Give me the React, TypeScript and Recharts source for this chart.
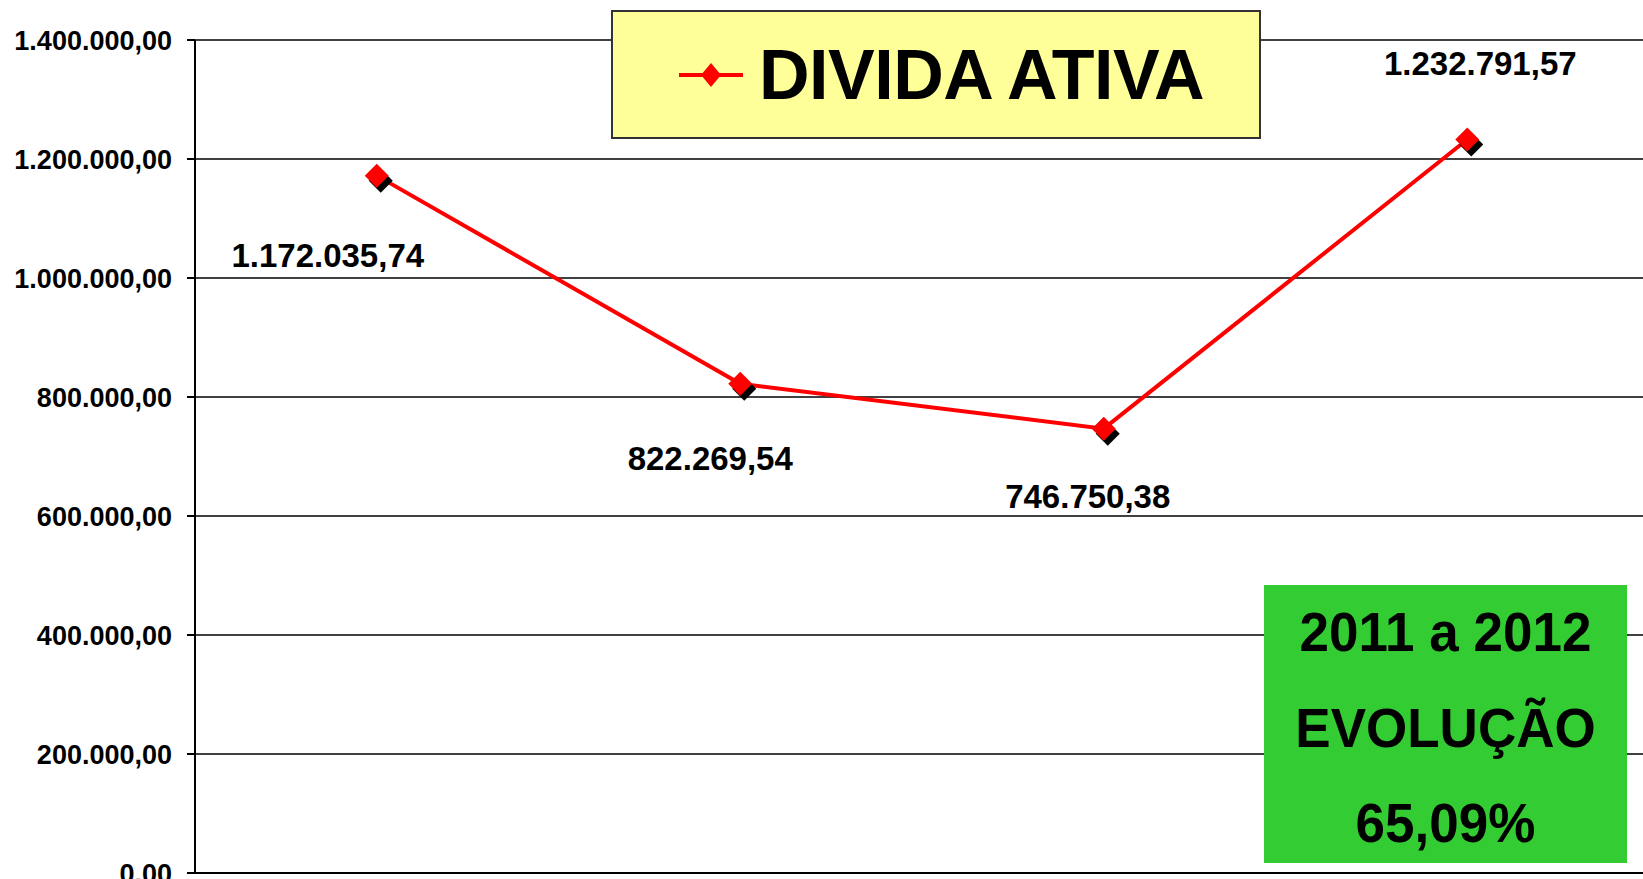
import { CartesianGrid, LabelList, Legend, Line, LineChart, XAxis, YAxis } from "recharts"

const categories = ["2009", "2010", "2011", "2012"]
const dividaAtiva = [1172035.74, 822269.54, 746750.38, 1232791.57]
const yTicks = [0, 200000, 400000, 600000, 800000, 1000000, 1200000, 1400000]
const xEdges = [0, 1, 2, 3, 4]
const seriesName = "DIVIDA ATIVA"
const boxLines = ["2011 a 2012", "EVOLUÇÃO", "65,09%"]

// where each value label sits relative to its point
const labelOffsets = [
  [-49, 80],
  [-30, 75],
  [-16, 68],
  [13, -76],
]

const data = categories.map((ano, i) => ({ ano, pos: i + 0.5, valor: dividaAtiva[i] }))

const FONT = "'Liberation Sans', Arial, sans-serif"

function fmt(v: number) {
  const [int, dec] = v.toFixed(2).split(".")
  return int.replace(/\B(?=(\d{3})+(?!\d))/g, ".") + "," + dec
}

function Marker(props: any) {
  const { cx, cy, index } = props
  if (cx == null || cy == null) return <g key={index} />
  const d = (x: number, y: number) => `M${x},${y - 12} L${x + 12},${y} L${x},${y + 12} L${x - 12},${y} Z`
  return (
    <g key={"m" + index}>
      <path d={d(cx + 4, cy + 5)} fill="#000" />
      <path d={d(cx, cy)} fill="#ff0000" />
    </g>
  )
}

function ValueLabel(props: any) {
  const x = props.x ?? props.viewBox?.x
  const y = props.y ?? props.viewBox?.y
  const [dx, dy] = labelOffsets[props.index] ?? [0, 0]
  return (
    <text
      x={x + dx}
      y={y + dy}
      textAnchor="middle"
      dominantBaseline="central"
      fill="#000"
      fontSize={33}
      fontWeight="bold"
      fontFamily={FONT}
    >
      {fmt(Number(props.value))}
    </text>
  )
}

function LegendBox() {
  return (
    <div
      style={{
        width: 650,
        height: 129,
        boxSizing: "border-box",
        background: "#ffff99",
        border: "2px solid #333",
        display: "flex",
        alignItems: "center",
        fontFamily: FONT,
      }}
    >
      <svg width={64} height={30} style={{ marginLeft: 66 }}>
        <line x1={0} y1={15} x2={64} y2={15} stroke="#ff0000" strokeWidth={4} />
        <path d="M32,3 L42,15 L32,27 L22,15 Z" fill="#ff0000" />
      </svg>
      <span style={{ marginLeft: 16, fontSize: 70, fontWeight: "bold", color: "#000", letterSpacing: -0.5 }}>
        {seriesName}
      </span>
    </div>
  )
}

// vertical centre of each line inside the green box
const boxLineTops = [46, 142, 237]

export default function App() {
  return (
    <div style={{ position: "relative", width: 1643, height: 879, overflow: "hidden", fontFamily: FONT }}>
      <style>{"body{margin:0}"}</style>
      <LineChart width={1649} height={879} data={data} margin={{ top: 40, right: 0, left: 0, bottom: 0 }}>
        <CartesianGrid vertical={false} stroke="#000" strokeWidth={1.5} />
        <XAxis
          dataKey="pos"
          type="number"
          domain={[0, 4]}
          ticks={xEdges}
          tick={false}
          height={6}
          tickSize={10}
          stroke="#000"
          strokeWidth={2}
          allowDataOverflow
        />
        <YAxis
          width={195}
          domain={[0, 1400000]}
          ticks={yTicks}
          tickFormatter={(v: number) => fmt(v)}
          tick={{ fill: "#000", fontSize: 27, fontWeight: "bold", fontFamily: FONT }}
          tickSize={8}
          tickMargin={15}
          stroke="#000"
          strokeWidth={2}
          interval={0}
        />
        <Legend
          layout="vertical"
          align="center"
          verticalAlign="middle"
          wrapperStyle={{ left: 611, top: 10, width: 650 }}
          content={() => <LegendBox />}
        />
        <Line
          type="linear"
          dataKey="valor"
          name={seriesName}
          stroke="#ff0000"
          strokeWidth={4}
          dot={(p: any) => <Marker {...p} />}
          activeDot={false}
          isAnimationActive={false}
        >
          <LabelList dataKey="valor" content={(p: any) => <ValueLabel {...p} />} />
        </Line>
      </LineChart>
      <div
        style={{
          position: "absolute",
          left: 1264,
          top: 585,
          width: 363,
          height: 278,
          background: "#33cc33",
          fontSize: 53,
          fontWeight: "bold",
          color: "#000",
          lineHeight: 1,
        }}
      >
        {boxLines.map((t, i) => (
          <div
            key={t}
            style={{
              position: "absolute",
              left: 0,
              width: "100%",
              top: boxLineTops[i],
              transform: "translateY(-50%) scaleY(1.06)",
              textAlign: "center",
            }}
          >
            {t}
          </div>
        ))}
      </div>
    </div>
  )
}
